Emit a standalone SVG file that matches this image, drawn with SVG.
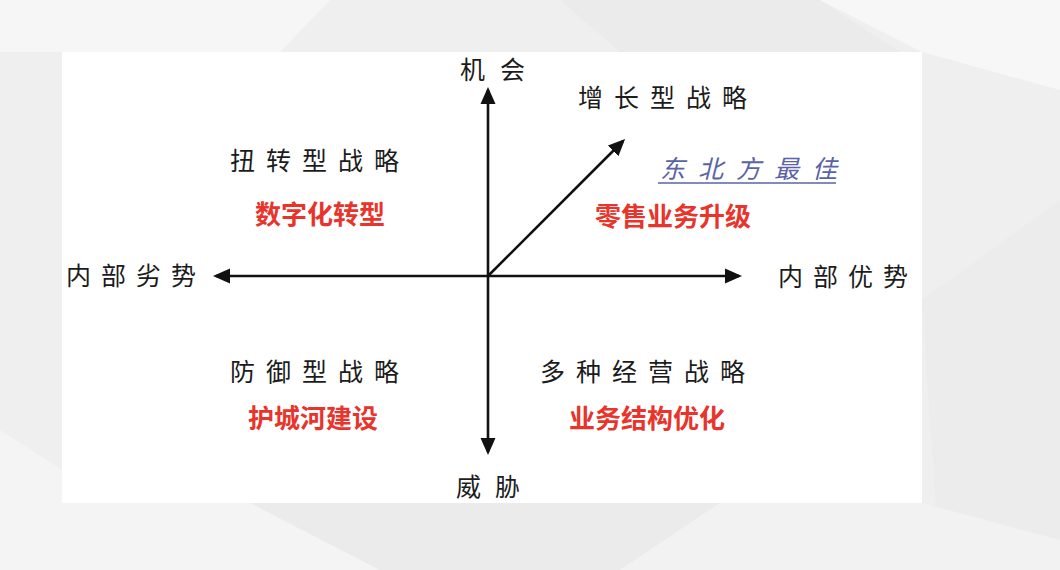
<svg xmlns="http://www.w3.org/2000/svg" width="1060" height="570" viewBox="0 0 1060 570">
  <defs>
    <marker id="arrow" markerUnits="userSpaceOnUse" markerWidth="17" markerHeight="16" viewBox="0 0 17 16" refX="14" refY="8" orient="auto-start-reverse">
      <path d="M0,0.5 L17,8 L0,15.5 z" fill="#111"/>
    </marker>
    <style>
      .hw { font-family: "Noto Sans CJK SC", "Noto Sans", sans-serif; font-size: 25px; fill: #1c1c1c; dominant-baseline: central; }
      .red { font-family: "Noto Sans CJK SC", "Noto Sans", sans-serif; font-size: 26px; font-weight: 700; fill: #e8342b; dominant-baseline: central; }
      .blue { font-family: "Noto Sans CJK SC", "Noto Sans", sans-serif; font-size: 25px; font-style: italic; fill: #5a63a6; dominant-baseline: central; }
      .axis { stroke: #111; stroke-width: 2.6; fill: none; }
    </style>
  </defs>

  <!-- background -->
  <rect x="0" y="0" width="1060" height="570" fill="#efefef"/>
  <polygon points="0,0 330,0 280,52 0,52" fill="#f6f6f6"/>
  <polygon points="560,0 820,0 900,52 620,52" fill="#ebebeb"/>
  <polygon points="820,0 1060,0 1060,90 922,52" fill="#f7f7f7"/>
  <polygon points="922,300 1060,200 1060,570 940,570" fill="#ececec"/>
  <polygon points="0,430 62,470 62,503 250,503 380,570 0,570" fill="#f4f4f4"/>
  <polygon points="250,503 720,503 620,570 380,570" fill="#ebebeb"/>
  <polygon points="720,503 922,503 1060,540 1060,570 620,570" fill="#f2f2f2"/>

  <!-- white panel -->
  <rect x="62" y="52" width="860" height="451" fill="#ffffff"/>

  <!-- connectors -->
  <g id="connectors">
    <line class="axis" x1="488" y1="276" x2="488" y2="90" marker-end="url(#arrow)"/>
    <line class="axis" x1="488" y1="276" x2="488" y2="452" marker-end="url(#arrow)"/>
    <line class="axis" x1="216" y1="276" x2="739" y2="276" marker-start="url(#arrow)" marker-end="url(#arrow)"/>
    <line class="axis" x1="488" y1="276" x2="623" y2="141" marker-end="url(#arrow)"/>
  </g>

  <!-- axis labels -->
  <g id="label-opportunity"><text class="hw" x="460" y="68" letter-spacing="15">机会</text></g>
  <g id="label-threat"><text class="hw" x="456" y="485" letter-spacing="14">威胁</text></g>
  <g id="label-weakness"><text class="hw" x="66" y="274" letter-spacing="10">内部劣势</text></g>
  <g id="label-strength"><text class="hw" x="778" y="275" letter-spacing="10">内部优势</text></g>

  <!-- quadrants -->
  <g id="q-growth">
    <text class="hw" x="578" y="96" letter-spacing="11">增长型战略</text>
    <text class="red" x="595" y="214">零售业务升级</text>
  </g>
  <g id="q-northeast">
    <text class="blue" x="660" y="167" letter-spacing="13">东北方最佳</text>
    <line x1="658" y1="183" x2="836" y2="183" stroke="#5a63a6" stroke-width="1.6"/>
  </g>
  <g id="q-turnaround">
    <text class="hw" x="230" y="159" letter-spacing="11">扭转型战略</text>
    <text class="red" x="255" y="212">数字化转型</text>
  </g>
  <g id="q-defensive">
    <text class="hw" x="230" y="370" letter-spacing="11">防御型战略</text>
    <text class="red" x="248" y="416">护城河建设</text>
  </g>
  <g id="q-diversified">
    <text class="hw" x="540" y="370" letter-spacing="11">多种经营战略</text>
    <text class="red" x="569" y="416">业务结构优化</text>
  </g>
</svg>
